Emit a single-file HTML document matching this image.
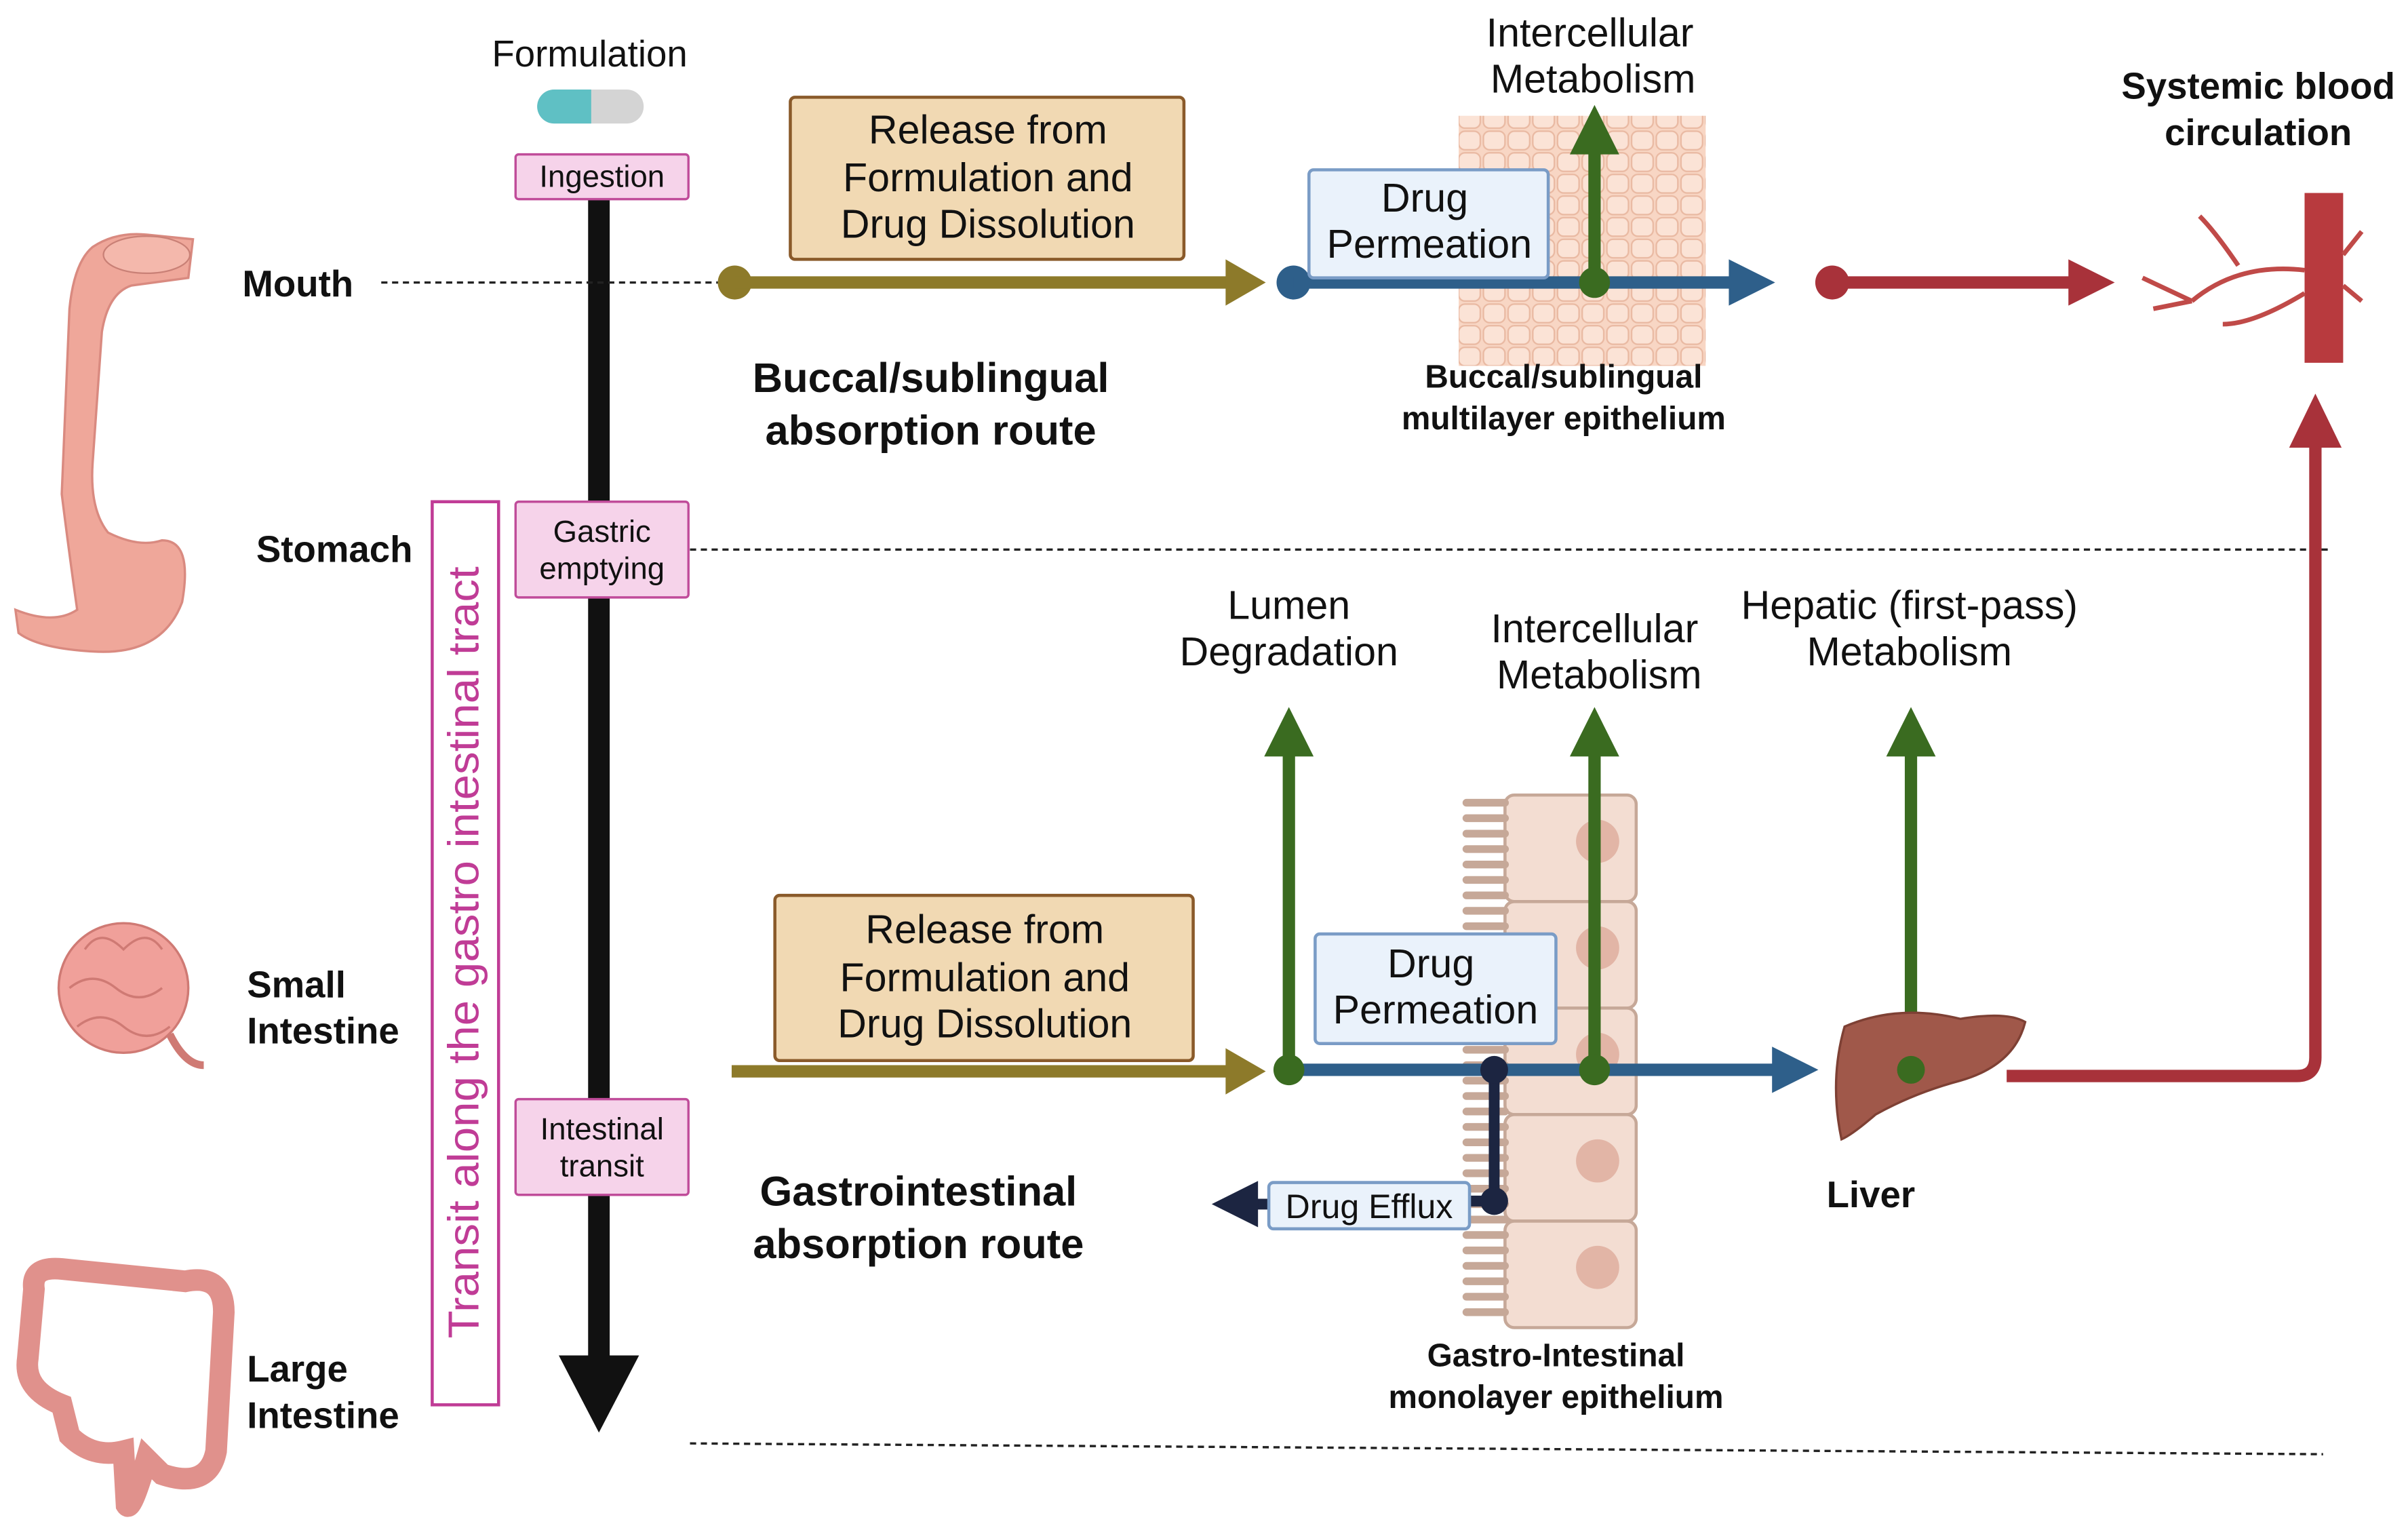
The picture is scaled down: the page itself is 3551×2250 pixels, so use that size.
<!DOCTYPE html>
<html><head><meta charset="utf-8"><style>html,body{margin:0;padding:0;background:#fff}svg{display:block}text{font-family:"Liberation Sans",sans-serif;fill:#111}</style></head><body>
<svg width="3551" height="2250" viewBox="0 0 1560 988.5" preserveAspectRatio="none" xmlns="http://www.w3.org/2000/svg">
<defs>
<pattern id="cells" width="16" height="14" patternUnits="userSpaceOnUse"><rect width="16" height="14" fill="#f8d6c4"/><rect x="1" y="1" width="14" height="12" rx="4" fill="#fbe3d6" stroke="#e9b9a2" stroke-width="1"/></pattern>
</defs>
<!-- organs -->
<path d="M60,160 Q75,150 95,152 L125,155 L122,180 L85,185 Q70,190 66,215 L60,300 Q58,330 70,345 Q90,355 105,350 Q125,350 118,390 Q105,425 60,422 Q25,420 12,410 L10,395 Q35,405 50,395 Q45,360 40,320 L45,200 Q48,170 60,160Z" fill="#efa79a" stroke="#d98a80" stroke-width="1.5"/>
<ellipse cx="95" cy="165" rx="28" ry="12" fill="#f4b8ac" stroke="#c98076"/>
<g fill="#f0a09a" stroke="#cf7a74" stroke-width="1.5"><circle cx="80" cy="640" r="42"/><path d="M55,615 q10,-15 25,0 q15,-15 25,0 M45,640 q15,-12 30,0 q15,12 30,0 M50,665 q15,-12 30,0 q15,12 30,0" fill="none"/><path d="M110,670 Q120,690 132,690" fill="none" stroke-width="5"/></g>
<path d="M22,835 Q20,820 40,822 L120,830 Q145,825 145,850 L140,940 Q135,965 105,955 L95,945 Q85,980 82,975 L80,940 Q60,945 45,930 L40,910 Q15,900 18,880Z" fill="none" stroke="#e0918c" stroke-width="14"/>
<!-- formulation -->
<text x="382" y="43" font-size="24" text-anchor="middle">Formulation</text>
<rect x="348" y="58" width="69" height="22" rx="11" fill="#d4d4d4"/>
<path d="M359,58 h24 v22 h-24 a11,11 0 0 1 0,-22z" fill="#5fc0c4"/>
<!-- black arrow -->
<rect x="381" y="125" width="14" height="755" fill="#111"/>
<polygon points="362,878 414,878 388,928" fill="#111"/>
<g fill="#f6d3ea" stroke="#c04c9a" stroke-width="1.5">
<rect x="334" y="100" width="112" height="29" rx="2"/>
<rect x="334" y="325" width="112" height="62" rx="2"/>
<rect x="334" y="712" width="112" height="62" rx="2"/>
</g>
<g font-size="20" text-anchor="middle">
<text x="390" y="121">Ingestion</text>
<text x="390" y="351">Gastric</text><text x="390" y="375">emptying</text>
<text x="390" y="738">Intestinal</text><text x="390" y="762">transit</text>
</g>
<rect x="280" y="325" width="43" height="585" fill="none" stroke="#c03c96" stroke-width="2"/>
<text transform="translate(310,617) rotate(-90)" font-size="28" text-anchor="middle" textLength="500" lengthAdjust="spacingAndGlyphs" style="fill:#c03c96">Transit along the gastro intestinal tract</text>
<g font-size="24" font-weight="bold">
<text x="157" y="192">Mouth</text>
<text x="166" y="364">Stomach</text>
<text x="160" y="646">Small</text><text x="160" y="676">Intestine</text>
<text x="160" y="895">Large</text><text x="160" y="925">Intestine</text>
</g>
<g stroke="#222" stroke-width="1.5" stroke-dasharray="4,3" fill="none">
<line x1="247" y1="183" x2="465" y2="183"/>
<line x1="447" y1="356" x2="1510" y2="356"/>
<line x1="447" y1="935" x2="1505" y2="942"/>
</g>
<!-- top route -->
<rect x="512" y="63" width="255" height="105" rx="3" fill="#f1d9b3" stroke="#8a5a2a" stroke-width="2"/>
<g font-size="26" text-anchor="middle"><text x="640" y="93">Release from</text><text x="640" y="124">Formulation and</text><text x="640" y="154">Drug Dissolution</text></g>
<circle cx="476" cy="183" r="11" fill="#8d7a2a"/>
<line x1="476" y1="183" x2="796" y2="183" stroke="#8d7a2a" stroke-width="8"/>
<polygon points="794,168 820,183 794,198" fill="#8d7a2a"/>
<rect x="945" y="75" width="160" height="162" fill="url(#cells)"/>
<circle cx="838" cy="183" r="11" fill="#2e5f8a"/>
<line x1="838" y1="183" x2="1122" y2="183" stroke="#2e5f8a" stroke-width="8"/>
<polygon points="1120,168 1150,183 1120,198" fill="#2e5f8a"/>
<rect x="848" y="110" width="155" height="70" rx="3" fill="#eaf2fb" stroke="#7a9cc6" stroke-width="2"/>
<g font-size="26" text-anchor="middle"><text x="923" y="137">Drug</text><text x="926" y="167">Permeation</text></g>
<line x1="1033" y1="183" x2="1033" y2="98" stroke="#3a6b20" stroke-width="8"/>
<polygon points="1017,100 1033,68 1049,100" fill="#3a6b20"/>
<circle cx="1033" cy="183" r="10" fill="#3a6b20"/>
<g font-size="26" text-anchor="middle"><text x="1030" y="30">Intercellular</text><text x="1032" y="60">Metabolism</text></g>
<g font-size="21" font-weight="bold" text-anchor="middle"><text x="1013" y="251">Buccal/sublingual</text><text x="1013" y="278">multilayer epithelium</text></g>
<g font-size="27" font-weight="bold" text-anchor="middle"><text x="603" y="254">Buccal/sublingual</text><text x="603" y="288">absorption route</text></g>
<circle cx="1187" cy="183" r="11" fill="#a8323a"/>
<line x1="1187" y1="183" x2="1342" y2="183" stroke="#a8323a" stroke-width="8"/>
<polygon points="1340,168 1370,183 1340,198" fill="#a8323a"/>
<rect x="1493" y="125" width="25" height="110" fill="#b83a3e"/>
<g stroke="#c04a48" stroke-width="3" fill="none"><path d="M1493,175 Q1450,170 1420,195 M1450,172 Q1435,150 1425,140 M1493,190 Q1460,210 1440,210 M1420,195 L1388,180 M1420,195 L1395,200 M1518,165 L1530,150 M1518,185 L1530,195"/></g>
<g font-size="24" font-weight="bold" text-anchor="middle"><text x="1463" y="64">Systemic blood</text><text x="1463" y="94">circulation</text></g>
<path d="M1300,697 H1488 Q1500,697 1500,685 V285" stroke="#a8323a" stroke-width="8" fill="none"/>
<polygon points="1483,290 1500,255 1517,290" fill="#a8323a"/>
<!-- bottom route -->
<g fill="#f3ddd2" stroke="#c6a898" stroke-width="2">
<rect x="975" y="515" width="85" height="69" rx="6"/><rect x="975" y="584" width="85" height="69" rx="6"/><rect x="975" y="653" width="85" height="69" rx="6"/><rect x="975" y="722" width="85" height="69" rx="6"/><rect x="975" y="791" width="85" height="69" rx="6"/>
</g>
<g fill="#e2b5a6"><circle cx="1035" cy="545" r="14"/><circle cx="1035" cy="614" r="14"/><circle cx="1035" cy="683" r="14"/><circle cx="1035" cy="752" r="14"/><circle cx="1035" cy="821" r="14"/></g>
<path d="M975,520 h-25 M975,530 h-25 M975,540 h-25 M975,550 h-25 M975,560 h-25 M975,570 h-25 M975,580 h-25 M975,590 h-25 M975,600 h-25 M975,610 h-25 M975,620 h-25 M975,630 h-25 M975,640 h-25 M975,650 h-25 M975,660 h-25 M975,670 h-25 M975,680 h-25 M975,690 h-25 M975,700 h-25 M975,710 h-25 M975,720 h-25 M975,730 h-25 M975,740 h-25 M975,750 h-25 M975,760 h-25 M975,770 h-25 M975,780 h-25 M975,790 h-25 M975,800 h-25 M975,810 h-25 M975,820 h-25 M975,830 h-25 M975,840 h-25 M975,850 h-25" stroke="#c6a898" stroke-width="5" stroke-linecap="round"/>
<rect x="502" y="580" width="271" height="107" rx="3" fill="#f1d9b3" stroke="#8a5a2a" stroke-width="2"/>
<g font-size="26" text-anchor="middle"><text x="638" y="611">Release from</text><text x="638" y="642">Formulation and</text><text x="638" y="672">Drug Dissolution</text></g>
<line x1="474" y1="694" x2="796" y2="694" stroke="#8d7a2a" stroke-width="8"/>
<polygon points="794,679 820,694 794,709" fill="#8d7a2a"/>
<line x1="832" y1="693" x2="1150" y2="693" stroke="#2e5f8a" stroke-width="8"/>
<polygon points="1148,678 1178,693 1148,708" fill="#2e5f8a"/>
<g stroke="#3a6b20" stroke-width="8"><line x1="835" y1="693" x2="835" y2="488"/><line x1="1033" y1="693" x2="1033" y2="488"/><line x1="1238" y1="693" x2="1238" y2="488"/></g>
<g fill="#3a6b20"><polygon points="819,490 835,458 851,490"/><polygon points="1017,490 1033,458 1049,490"/><polygon points="1222,490 1238,458 1254,490"/><circle cx="835" cy="693" r="10"/><circle cx="1033" cy="693" r="10"/></g>
<g font-size="26" text-anchor="middle"><text x="835" y="401">Lumen</text><text x="835" y="431">Degradation</text><text x="1033" y="416">Intercellular</text><text x="1036" y="446">Metabolism</text><text x="1237" y="401">Hepatic (first-pass)</text><text x="1237" y="431">Metabolism</text></g>
<rect x="852" y="605" width="156" height="71" rx="3" fill="#eaf2fb" stroke="#7a9cc6" stroke-width="2"/>
<g font-size="26" text-anchor="middle"><text x="927" y="633">Drug</text><text x="930" y="663">Permeation</text></g>
<path d="M968,693 V778 H950" stroke="#1c2541" stroke-width="7" fill="none"/>
<circle cx="968" cy="693" r="9" fill="#1c2541"/><circle cx="968" cy="778" r="9" fill="#1c2541"/>
<line x1="822" y1="780" x2="805" y2="780" stroke="#1c2541" stroke-width="7"/>
<polygon points="815,765 785,780 815,795" fill="#1c2541"/>
<rect x="822" y="766" width="130" height="30" rx="3" fill="#eaf2fb" stroke="#7a9cc6" stroke-width="2"/>
<text x="887" y="789" font-size="22" text-anchor="middle">Drug Efflux</text>
<path d="M1195,665 Q1230,650 1270,660 Q1300,655 1312,662 Q1305,690 1270,700 Q1240,708 1215,722 Q1200,735 1193,738 Q1185,700 1195,665Z" fill="#a0584a" stroke="#7e4034" stroke-width="1.5"/>
<circle cx="1238" cy="693" r="9" fill="#3a6b20"/>
<text x="1212" y="782" font-size="24" font-weight="bold" text-anchor="middle">Liver</text>
<g font-size="27" font-weight="bold" text-anchor="middle"><text x="595" y="781">Gastrointestinal</text><text x="595" y="815">absorption route</text></g>
<g font-size="21" font-weight="bold" text-anchor="middle"><text x="1008" y="885">Gastro-Intestinal</text><text x="1008" y="912">monolayer epithelium</text></g>
</svg>
</body></html>
